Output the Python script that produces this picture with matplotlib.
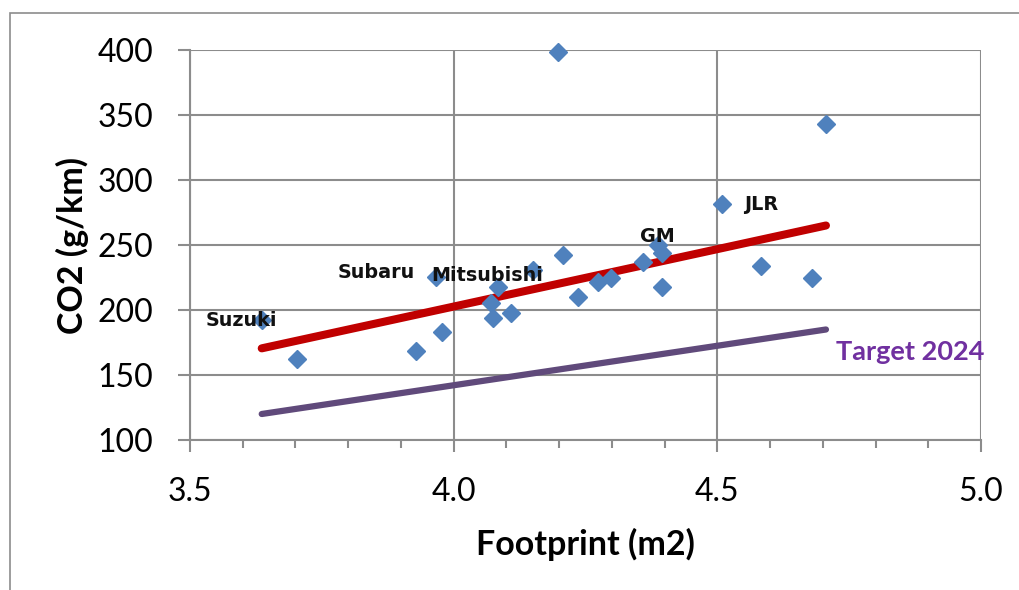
import numpy as np
from matplotlib import pyplot as plt
from matplotlib.patches import Rectangle

# Data

footprint = [4.197, 4.706, 4.509, 4.387, 4.396, 4.207, 4.150, 3.967, 4.084,
             4.070, 4.074, 4.109, 3.977, 3.928, 3.702, 3.636, 4.235, 4.274,
             4.299, 4.359, 4.396, 4.583, 4.679]   # [m2]
co2 = [398.5, 343.0, 281.3, 250.0, 243.6, 242.3, 230.8, 225.6, 217.9,
       205.5, 193.6, 197.4, 183.3, 168.7, 162.1, 192.3, 210.2, 221.8,
       224.4, 237.2, 217.4, 233.8, 224.9]         # [g/km]

trend_x  = [3.636, 4.706]   # [m2]
trend_y  = [170.5, 265.0]   # [g/km]
target_x = [3.636, 4.706]   # [m2]
target_y = [120.0, 185.0]   # [g/km]

labels    = ['Suzuki', 'Subaru', 'Mitsubishi', 'GM', 'JLR']
label_pts = [15, 7, 8, 3, 2]   # index of the point each label belongs to

xticks = [3.5, 4.0, 4.5, 5.0]
yticks = [100, 150, 200, 250, 300, 350, 400]

# Style

plt.rcParams['font.family'] = ['Lato', 'DejaVu Sans']
grid_c = '#8c8c8c'

fig = plt.figure(figsize=(10.19, 5.90), dpi=100)
ax = fig.add_axes([190/1019, 1-440/590, 791/1019, 390/590])

# outer chart frame
fig.patches.append(Rectangle((10/1019, -0.1), 1.2, 1-13/590+0.1, transform=fig.transFigure,
                             fill=False, edgecolor=grid_c, lw=1.2, clip_on=False))

# Plotting

ax.plot(target_x, target_y, color='#604a7b', lw=4.5, solid_capstyle='round', zorder=2)
ax.plot(trend_x, trend_y, color='#c00000', lw=5.8, solid_capstyle='round', zorder=3)
ax.plot(footprint, co2, linestyle='None', marker='D', ms=9.5, color='#4f81bd',
        markeredgecolor='#4f81bd', zorder=4, clip_on=False)

# point labels (offsets in points)
offsets = [(-15, 0), (-43, 3), (-8, 8), (0, 6), (28, 0)]
for name, i, off in zip(labels, label_pts, offsets):
    ax.annotate(name, (footprint[i], co2[i]), xytext=off, textcoords='offset points',
                ha='center', va='center', fontsize=13.8, fontweight='bold',
                family='DejaVu Sans', color='#111111', zorder=5)

ax.annotate('Target 2024', (target_x[1], target_y[1]), xytext=(61, -16),
            textcoords='offset points', ha='center', va='center', fontsize=19.5,
            fontweight='bold', color='#7030a0', zorder=5)

# Axes

ax.set_xlim(3.5, 5.0)
ax.set_ylim(100, 400)
ax.set_xticks(xticks)
ax.set_xticklabels(['%.1f' % v for v in xticks])
ax.set_xticks(np.arange(3.6, 5.0, 0.1), minor=True)
ax.set_yticks(yticks)

ax.grid(True, which='major', color=grid_c, lw=1.5)
ax.set_axisbelow(True)
for s in ['top', 'right']:
    ax.spines[s].set_visible(False)
for s in ['left', 'bottom']:
    ax.spines[s].set_color(grid_c)
    ax.spines[s].set_linewidth(1.5)

ax.tick_params(axis='both', which='major', direction='out', length=8.5, width=1.5,
               color=grid_c, labelsize=23)
ax.tick_params(axis='y', which='major', pad=18)
ax.tick_params(axis='x', which='minor', direction='out', length=6, width=1.5, color=grid_c)
ax.tick_params(axis='x', which='major', pad=18)

ax.set_xlabel('Footprint (m2)', fontsize=24.5, fontweight='bold', labelpad=15)
ax.set_ylabel('CO2 (g/km)', fontsize=24.5, fontweight='bold', labelpad=6)

plt.savefig('out.png', dpi=100)
